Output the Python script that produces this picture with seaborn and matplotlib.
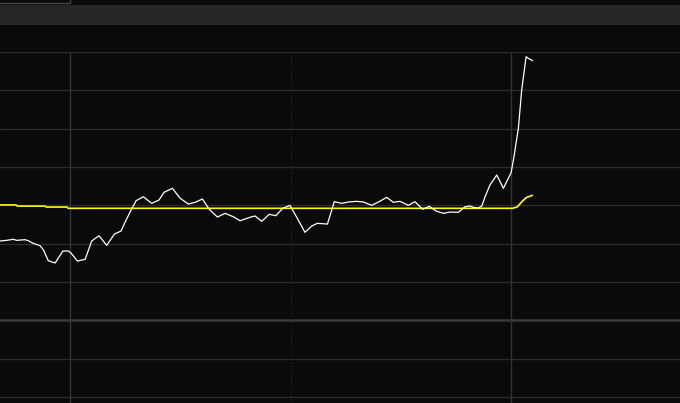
import matplotlib
matplotlib.use("Agg")
import matplotlib.pyplot as plt
from matplotlib.patches import Rectangle
import seaborn as sns

# white series (strategy) - x in periods, y in percent
strat_x = [-31.9, -28.8, -25.9, -24.3, -20.5, -19.0, -16.9, -13.7, -12.2, -10.0,
           -6.9, -3.4, -0.9, 0.2, 3.2, 6.7, 9.7, 13.0, 16.5, 20.0,
           23.0, 24.8, 27.4, 29.8, 33.1, 36.9, 40.2, 42.5, 46.3, 49.8,
           53.5, 56.6, 59.9, 63.0, 66.7, 70.2, 73.9, 77.0, 82.3, 83.8,
           86.8, 90.2, 93.2, 96.3, 99.6, 102.7, 106.4, 109.5, 112.0, 116.6,
           119.7, 123.1, 126.1, 129.9, 132.9, 136.7, 140.0, 143.5, 146.5, 149.5,
           153.3, 156.3, 159.8, 162.8, 165.9, 169.2, 172.2, 176.0, 179.0, 181.3,
           182.8, 185.0, 186.6, 188.1, 190.3, 193.4, 196.4, 199.9, 201.2, 203.2,
           204.7, 206.7, 207.7, 209.7]
strat_y = [-9.31, -9.13, -8.87, -9.13, -8.97, -9.24, -9.91, -10.54, -11.66, -14.45,
           -15.05, -11.92, -11.92, -12.37, -14.53, -14.09, -9.31, -7.93, -10.44, -7.49,
           -6.70, -4.44, -1.41, 1.20, 2.24, 0.52, 1.38, 3.39, 4.44, 1.83,
           0.34, 0.78, 1.64, -1.04, -3.05, -2.09, -2.97, -4.02, -2.97, -2.79,
           -4.17, -2.35, -2.71, -0.78, 0.0, -3.13, -7.04, -5.40, -4.70, -4.88,
           0.94, 0.52, 0.86, 1.04, 0.86, 0.0, 0.94, 2.09, 0.78, 1.04,
           0.0, 0.94, -1.04, -0.26, -1.49, -2.09, -1.75, -1.83, -0.37, -0.18,
           -0.52, -0.70, -0.18, 2.24, 5.30, 7.91, 4.44, 8.51, 12.68, 20.09,
           30.08, 38.77, 38.35, 37.73]

# yellow series (benchmark)
bench_x = [-31.9, -24.6, -24.0, -11.5, -10.9, -1.5, -1.0, 200.6, 202.7, 204.7, 206.7, 209.5]
bench_y = [0.1, 0.1, -0.2, -0.2, -0.45, -0.45, -0.78, -0.78, -0.4, 0.9, 2.0, 2.6]

y_grid = [-50, -40, -30, -20, -10, 0, 10, 20, 30, 40]
x_grid = [0, 100, 200]

bg = "#0a0a0a"
sns.set_style("dark", {"axes.facecolor": bg, "figure.facecolor": bg})

fig = plt.figure(figsize=(6.8, 4.03), dpi=100)
ax = fig.add_axes([0, 0, 1, 351 / 403])

# top toolbar band and small box
fig.add_artist(Rectangle((0, 1 - 25 / 403), 1, 20 / 403, transform=fig.transFigure,
                         facecolor="#262626", edgecolor="none"))
fig.add_artist(Rectangle((-0.01, 1 - 2.5 / 403), 69.5 / 680 + 0.01, 0.05, transform=fig.transFigure,
                         facecolor="none", edgecolor="#444444", linewidth=1))

for g in y_grid:
    if g == -30:
        ax.axhline(g, color="#3a3a3a", lw=1.8, zorder=1)
    else:
        ax.axhline(g, color="#2b2b2b", lw=1.0, zorder=1)
for g in x_grid:
    if g == 100:
        ax.axvline(g, color="#2e2e2e", lw=0.8, ls=(0, (1, 2)), zorder=1)
    else:
        ax.axvline(g, color="#333333", lw=1.0, zorder=1)

sns.lineplot(x=bench_x, y=bench_y, ax=ax, color="#ffff00", lw=1.2, estimator=None, zorder=3)
sns.lineplot(x=strat_x, y=strat_y, ax=ax, color="#ffffff", lw=0.9, estimator=None, zorder=4)

ax.set_xlim(-31.9, 276.5)
ax.set_ylim(-51.57, 40.0)
ax.set_xticks([])
ax.set_yticks([])
ax.grid(False)
for s in ax.spines.values():
    s.set_visible(False)

fig.savefig("out.png", dpi=100, facecolor=bg)
